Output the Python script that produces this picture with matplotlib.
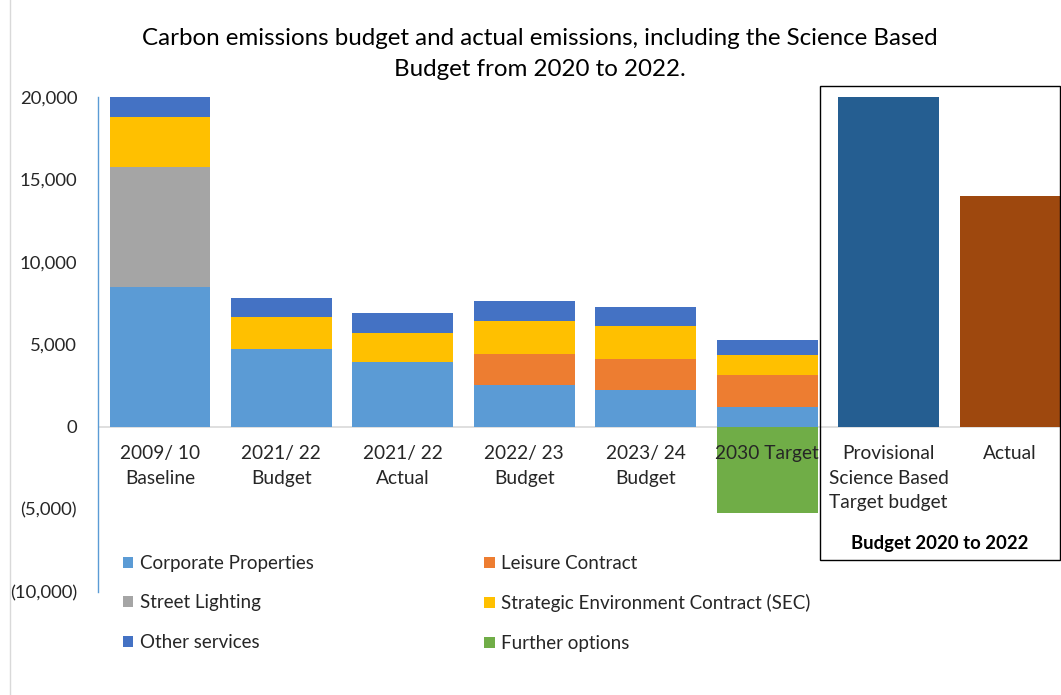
import matplotlib
matplotlib.use("Agg")
import matplotlib.pyplot as plt
from matplotlib.patches import Rectangle, Patch
from matplotlib.ticker import FuncFormatter
from matplotlib.lines import Line2D

plt.rcParams['font.family'] = ['Lato', 'DejaVu Sans']

categories = ["2009/ 10\nBaseline", "2021/ 22\nBudget", "2021/ 22\nActual",
              "2022/ 23\nBudget", "2023/ 24\nBudget", "2030 Target"]
corporate = [8450, 4690, 3920, 2510, 2200, 1210]
leisure = [0, 0, 0, 1910, 1880, 1900]
street = [7310, 0, 0, 0, 0, 0]
sec = [2990, 1940, 1780, 2000, 2000, 1250]
other = [1210, 1190, 1170, 1180, 1190, 880]
further = [0, 0, 0, 0, 0, -5210]

budget_labels = ["Provisional\nScience Based\nTarget budget", "Actual"]
budget_values = [20000, 14000]
budget_title = "Budget 2020 to 2022"

colors = {"Corporate Properties": "#5B9BD5", "Leisure Contract": "#ED7D31",
          "Street Lighting": "#A5A5A5", "Strategic Environment Contract (SEC)": "#FFC000",
          "Other services": "#4472C4", "Further options": "#70AD47"}
budget_colors = ["#255E91", "#9E480E"]

W, H = 1061, 695
fig = plt.figure(figsize=(W / 100, H / 100), dpi=100)
ax_left, ax_right = 98 / W, 1.0
ax_top, ax_bot = 1 - 96.7 / H, 1 - 591.7 / H
ax = fig.add_axes([ax_left, ax_bot, ax_right - ax_left, ax_top - ax_bot])

x = list(range(len(categories)))
width = 0.83
stack = [("Corporate Properties", corporate), ("Leisure Contract", leisure),
         ("Street Lighting", street), ("Strategic Environment Contract (SEC)", sec),
         ("Other services", other)]
bottom = [0] * len(categories)
for name, vals in stack:
    ax.bar(x, vals, width, bottom=bottom, color=colors[name], zorder=2)
    bottom = [b + v for b, v in zip(bottom, vals)]
ax.bar(x, further, width, color=colors["Further options"], zorder=2)

bx = [len(categories) + i for i in range(len(budget_values))]
ax.bar(bx, budget_values, width, color=budget_colors, zorder=2)

ax.set_xlim(-0.51, 7.42)
ax.set_ylim(-10000, 20000)
ax.set_yticks(range(-10000, 20001, 5000))
ax.yaxis.set_major_formatter(FuncFormatter(
    lambda v, p: f"({abs(int(v)):,})" if v < 0 else f"{int(v):,}"))
ax.tick_params(axis='y', length=0, pad=15, labelsize=13.3, labelcolor="#262626")
ax.set_xticks([])
for s in ["top", "right", "bottom"]:
    ax.spines[s].set_visible(False)
ax.spines["left"].set_color("#5B9BD5")
ax.spines["left"].set_linewidth(1.0)
ax.axhline(0, color="#D9D9D9", lw=1.2, zorder=1)

for xi, lab in zip(x + bx, categories + budget_labels):
    ax.text(xi, -1100, lab, ha="center", va="top", fontsize=13.8,
            color="#262626", linespacing=1.55, zorder=5)

# Box around budget 2020-2022 section
fig.add_artist(Rectangle((820 / W, 1 - 560 / H), (1059.5 - 820) / W, (560 - 86) / H,
                         transform=fig.transFigure, fill=False, edgecolor="#000000",
                         lw=1.0, clip_on=False, zorder=10))
fig.text(940 / W, 1 - 543 / H, budget_title, ha="center", va="center",
         fontsize=13.3, fontweight="bold", color="#000000")

# Chart outer border on left
fig.add_artist(Line2D([10 / W, 10 / W], [0, 1], transform=fig.transFigure,
                      color="#D9D9D9", lw=1.0))

fig.text(540 / W, 1 - 54 / H,
         "Carbon emissions budget and actual emissions, including the Science Based\nBudget from 2020 to 2022.",
         ha="center", va="center", fontsize=17.4, color="#000000", linespacing=1.55)

order = ["Corporate Properties", "Street Lighting", "Other services",
         "Leisure Contract", "Strategic Environment Contract (SEC)", "Further options"]
handles = [Patch(facecolor=colors[n], edgecolor="none") for n in order]
fig.legend(handles, order, ncol=2, loc="upper left",
           bbox_to_anchor=(106 / W, 1 - 538 / H), frameon=False,
           fontsize=13.5, handlelength=0.55, handleheight=0.55, handletextpad=0.35,
           columnspacing=9.1, labelspacing=1.2, labelcolor="#262626")

fig.savefig("out.png", dpi=100, facecolor="white")
